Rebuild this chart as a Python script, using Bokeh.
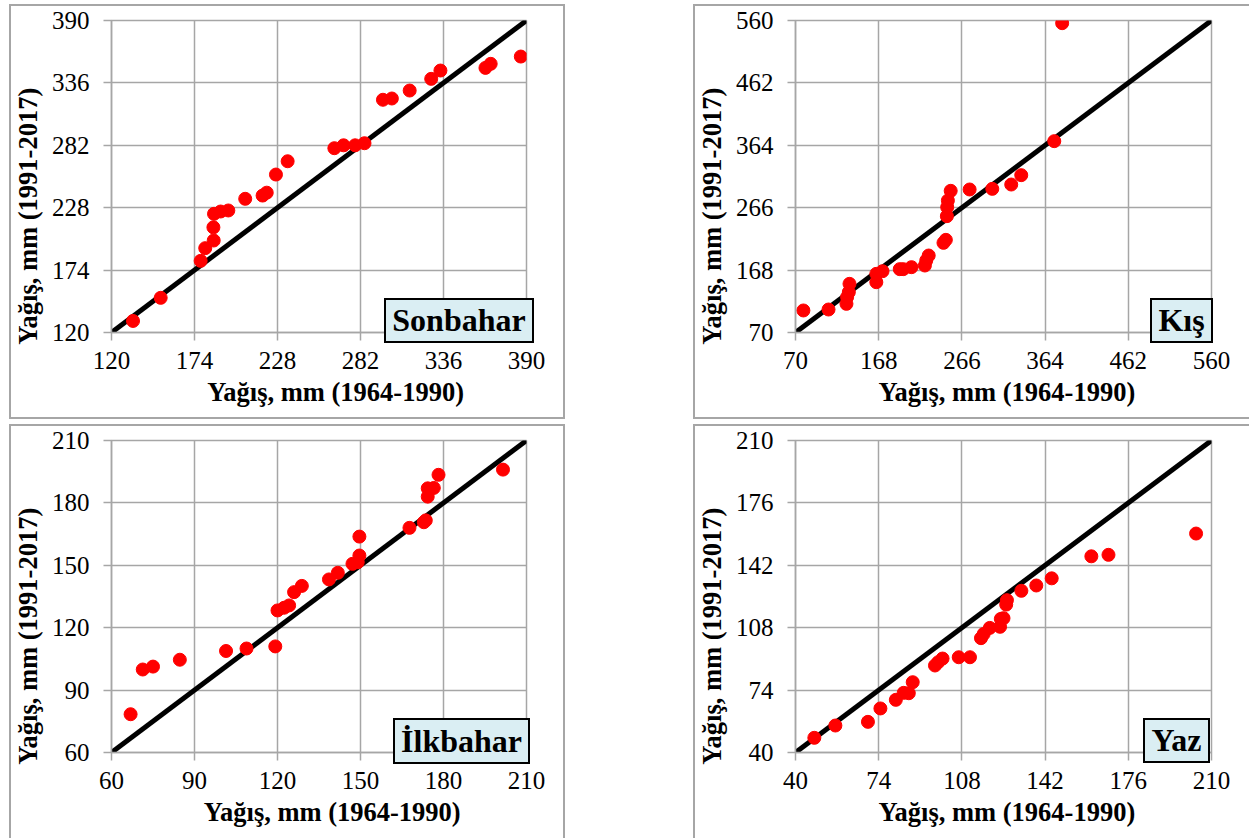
from bokeh.plotting import figure
from bokeh.models import Range1d, FixedTicker, Div
from bokeh.layouts import column, row
from bokeh.embed import file_html
from bokeh.resources import INLINE

# ---------------- data ----------------
son_ticks = [120, 174, 228, 282, 336, 390]
son_x = [134, 152, 178, 181, 186.5, 186.3, 186.7, 191, 196, 207, 218.3, 221, 227, 234.6,
         265, 271, 278.5, 284.6, 296.6, 302.4, 314, 328, 334, 363.3, 366.7, 386.3]
son_y = [130, 150, 182, 193, 199.6, 211, 222.7, 224.7, 225.6, 235.7, 238.5, 241, 256.7, 268.2,
         279.5, 282, 282, 283.8, 321.4, 322.5, 329.4, 339.5, 346.7, 349, 352.5, 358.8]

kis_ticks = [70, 168, 266, 364, 462, 560]
kis_x = [79.3, 108.9, 130, 130.8, 132.8, 133.6, 165.2, 165.2, 172.5, 192.8, 196.9, 206.6, 222.4,
         224, 226.9, 244.3, 247.1, 248.3, 248.7, 249.5, 252.8, 275.1, 301.8, 324.1, 335.9, 374.8, 384.1]
kis_y = [104.6, 106.1, 115, 125.5, 133.3, 146.4, 149, 162.1, 166.3, 169.5, 169.5, 172.6, 175.2,
         183.1, 190.9, 210.8, 215.5, 252.7, 266.8, 277.3, 292.5, 294.6, 295.6, 302.4, 317.1, 370.5, 555.8]

ilk_ticks = [60, 90, 120, 150, 180, 210]
ilk_x = [66.9, 71.3, 75, 84.7, 101.4, 108.8, 119.2, 120, 122.4, 124.2, 126, 128.8, 138.6, 141.8,
         147.1, 149, 149.6, 149.6, 167.7, 172.9, 173.6, 174.3, 174.3, 176.5, 178.2, 201.5]
ilk_y = [78.4, 99.9, 101.3, 104.6, 108.8, 110, 111, 128.3, 129.6, 130.7, 137.1, 140.1, 143.2, 146.4,
         150.7, 151.5, 154.7, 163.8, 168, 170.7, 171.6, 183, 187, 187.2, 193.5, 196]

yaz_ticks = [40, 74, 108, 142, 176, 210]
yaz_x = [47.7, 56.3, 69.6, 74.7, 81, 84.2, 86.3, 87.9, 97, 98.3, 100.1, 106.7, 111.3, 115.8,
         116.9, 119.4, 123.6, 123.9, 125, 126.1, 126.4, 132.3, 138.4, 144.7, 160.9, 167.9, 203.7]
yaz_y = [48, 54.7, 56.7, 64, 68.7, 72.5, 72.3, 78.3, 87.4, 89.2, 91.2, 91.9, 91.9, 102.3,
         104.6, 107.9, 108.5, 112.8, 113.2, 120.6, 123, 128.1, 131, 134.9, 146.9, 147.7, 159.3]

x_label = "Yağış, mm (1964-1990)"
y_label = "Yağış, mm (1991-2017)"
season_names = ["Sonbahar", "Kış", "İlkbahar", "Yaz"]

FONT = "Liberation Serif"
GRID = "#a6a6a6"
NB = "\u00a0"
WJ = "\u2060"


def panel(xs, ys, ticks, width, height, bl, br, bt, bb, margin, shadow, x_pad, y_pad):
    lo, hi = ticks[0], ticks[-1]
    p = figure(width=width, height=height, x_range=Range1d(lo, hi), y_range=Range1d(lo, hi),
               output_backend="svg", toolbar_location=None,
               min_border_left=bl, min_border_right=br, min_border_top=bt, min_border_bottom=bb)
    p.margin = margin
    p.styles = {"box-shadow": shadow}
    p.background_fill_color = "white"
    p.border_fill_color = None
    p.outline_line_color = GRID
    p.outline_line_width = 1.5
    for ax in (p.xaxis[0], p.yaxis[0]):
        ax.ticker = FixedTicker(ticks=ticks)
        ax.axis_line_color = GRID
        ax.axis_line_width = 1.5
        ax.major_tick_line_color = GRID
        ax.major_tick_line_width = 1.5
        ax.major_tick_out = 8
        ax.major_tick_in = 0
        ax.minor_tick_line_color = None
        ax.major_label_text_font = FONT
        ax.major_label_text_font_size = "25px"
        ax.major_label_text_color = "black"
        ax.axis_label_text_font = FONT
        ax.axis_label_text_font_size = "26.5px"
        ax.axis_label_text_font_style = "bold"
        ax.axis_label_text_color = "black"
    # non-breaking spaces offset the titles the way the original chart places them
    p.xaxis[0].axis_label = NB * x_pad + x_label
    p.yaxis[0].axis_label = y_label + NB * y_pad + WJ
    p.yaxis[0].major_label_standoff = 14
    p.xaxis[0].major_label_standoff = 11
    p.yaxis[0].axis_label_standoff = 6
    p.xaxis[0].axis_label_standoff = 5
    for g in (p.xgrid[0], p.ygrid[0]):
        g.grid_line_color = GRID
        g.grid_line_width = 1.5
    p.line([lo, hi], [lo, hi], line_color="black", line_width=5)
    p.scatter(xs, ys, size=13, color="#ff0000", line_color="#ff0000")
    return p


def season_box(name, left, top, w, h):
    return Div(text=name, width=w, height=h, margin=(0, 0, 0, 0), styles={
        "position": "absolute", "left": f"{left}px", "top": f"{top}px",
        "width": f"{w}px", "height": f"{h}px", "box-sizing": "border-box",
        "background-color": "#daeef3", "border": "2px solid black",
        "font-family": FONT, "font-weight": "bold", "font-size": "32px",
        "line-height": f"{h - 4}px", "text-align": "center", "color": "black",
        "z-index": "10", "overflow": "hidden", "white-space": "nowrap"})


S = "#a6a6a6"
p1 = panel(son_x, son_y, son_ticks, 556, 415, 102, 39, 16, 87, (4, 0, 0, 9),
           f"inset 2px 2px 0 0 {S}, inset -2px -2px 0 0 {S}", 5, 12)
p2 = panel(kis_x, kis_y, kis_ticks, 556, 415, 102, 38, 16, 87, (4, 0, 0, 128),
           f"inset 2px 2px 0 0 {S}, inset 0 -2px 0 0 {S}", 1, 12)
p3 = panel(ilk_x, ilk_y, ilk_ticks, 556, 414, 102, 39, 16, 86, (5, 0, 0, 9),
           f"inset 2px 2px 0 0 {S}, inset -2px 0 0 0 {S}", 4, 12)
p4 = panel(yaz_x, yaz_y, yaz_ticks, 556, 414, 102, 38, 16, 86, (5, 0, 0, 128),
           f"inset 2px 2px 0 0 {S}", 1, 12)

b1 = season_box(season_names[0], 384, 298, 150, 45)
b2 = season_box(season_names[1], 1150, 298, 63, 45)
b3 = season_box(season_names[2], 393, 718, 137, 46)
b4 = season_box(season_names[3], 1143, 718, 67, 45)

layout = column(row(p1, p2), row(p3, p4), b1, b2, b3, b4)

open("out.html", "w").write(file_html(layout, INLINE))
